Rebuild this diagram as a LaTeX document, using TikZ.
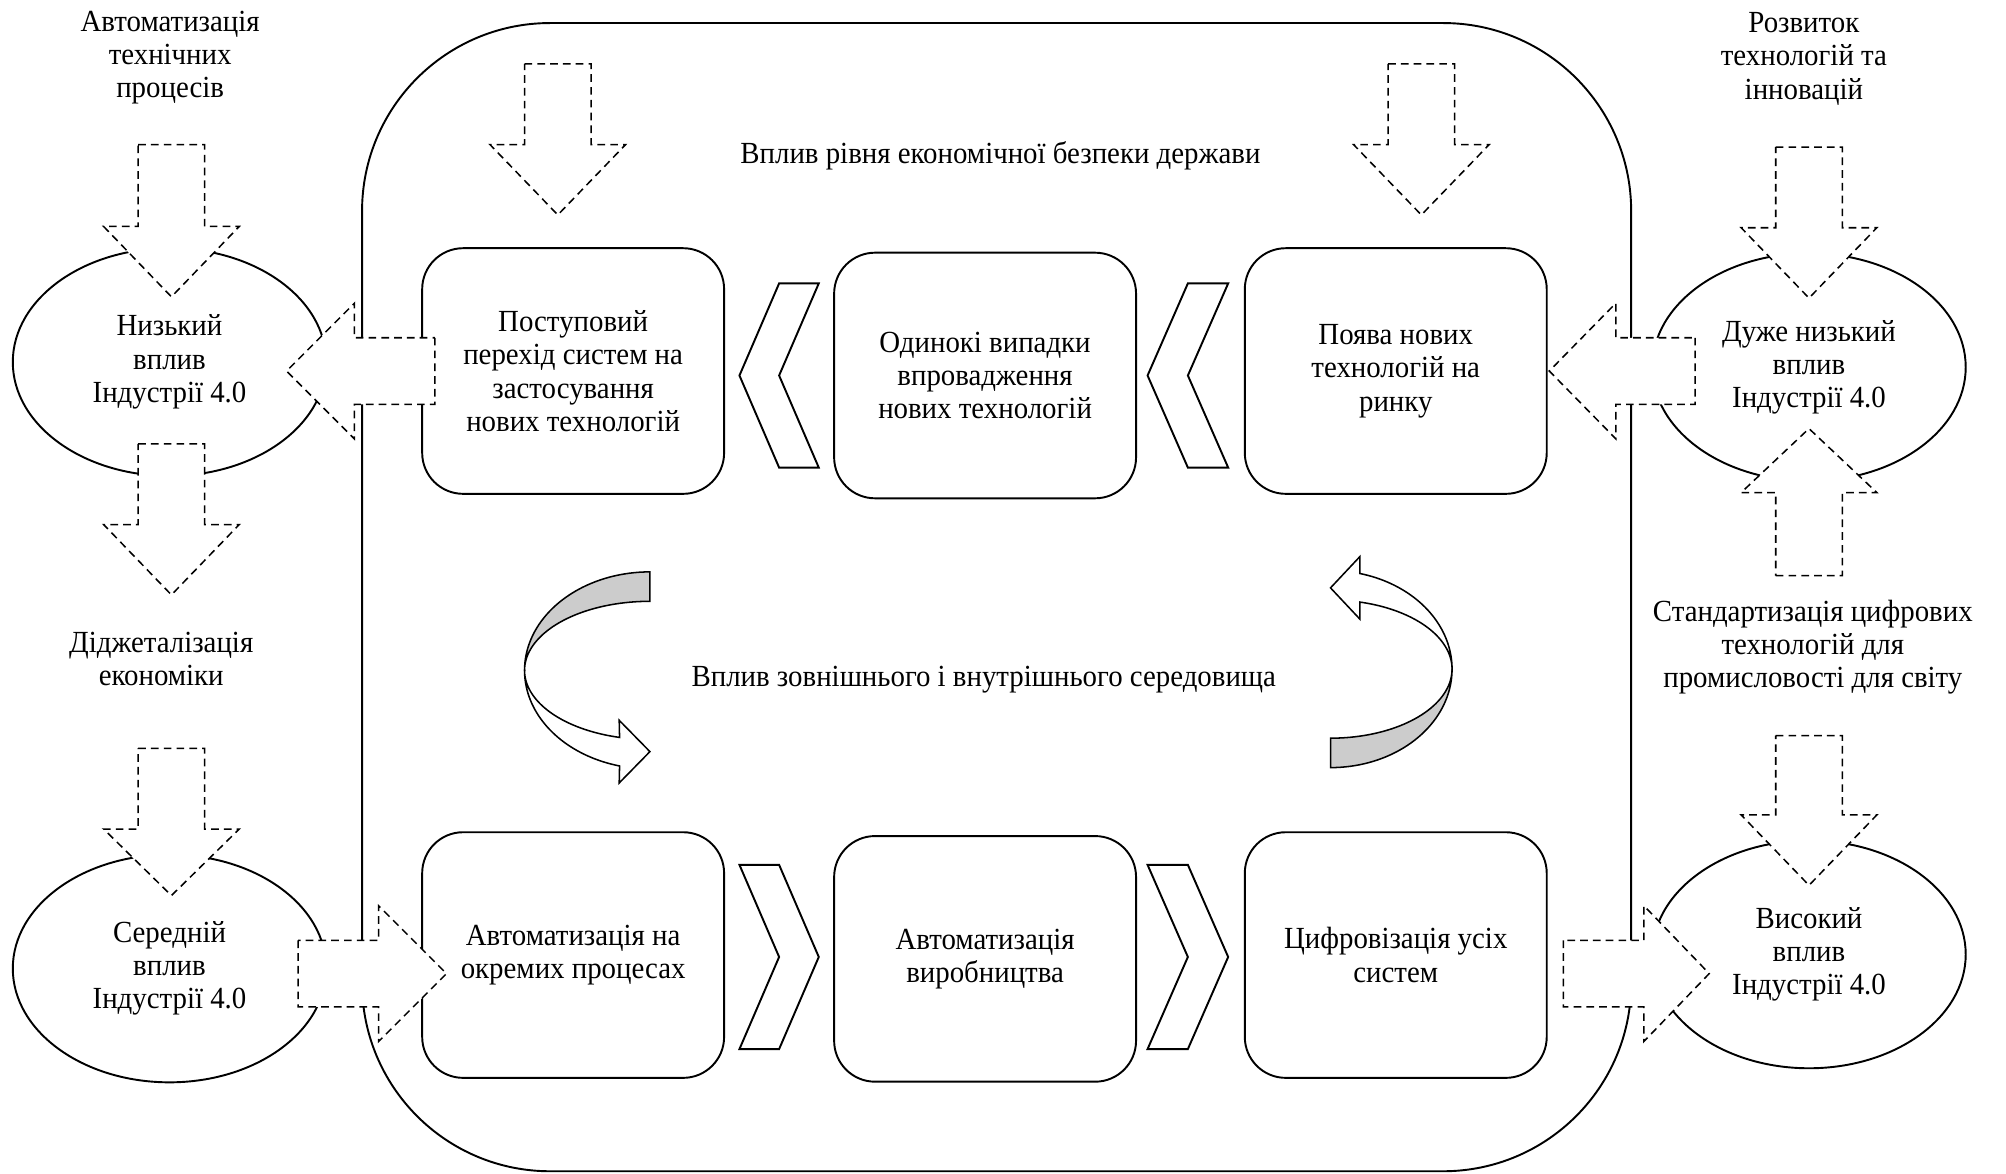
\documentclass[tikz,border=0pt]{standalone}
\usepackage{fontspec}
\setmainfont[FakeStretch=0.94]{Liberation Serif}
\usetikzlibrary{shapes.geometric}
\newcommand{\VArr}[4]{\path[dasharr] ({#1-26},{#2}) -- ({#1+26},{#2}) -- ({#1+26},{#3}) -- ({#1+53},{#3}) -- ({#1},{#4}) -- ({#1-53},{#3}) -- ({#1-26},{#3}) -- cycle;}
\newcommand{\HArr}[4]{\path[dasharr] ({#2},{#1-26}) -- ({#2},{#1+26}) -- ({#3},{#1+26}) -- ({#3},{#1+53}) -- ({#4},{#1}) -- ({#3},{#1-53}) -- ({#3},{#1-26}) -- cycle;}
\newcommand{\LChev}[3]{\path[chev] ({(#1+#2)/2},{#3-72}) -- ({#2},{#3-72}) -- ({(#1+#2)/2},{#3}) -- ({#2},{#3+72}) -- ({(#1+#2)/2},{#3+72}) -- ({#1},{#3}) -- cycle;}
\newcommand{\RChev}[3]{\path[chev] ({#1},{#3-72}) -- ({(#1+#2)/2},{#3-72}) -- ({#2},{#3}) -- ({(#1+#2)/2},{#3+72}) -- ({#1},{#3+72}) -- ({(#1+#2)/2},{#3}) -- cycle;}
\begin{document}
\begin{tikzpicture}[x=0.5pt,y=-0.5pt,
  every node/.style={font=\fontsize{12}{13}\selectfont, align=center, inner sep=0pt},
  stagebox/.style={draw, line width=0.75pt, rounded corners=16pt, minimum width=118pt, minimum height=96pt},
  ovalnode/.style={draw, ellipse, line width=0.75pt, minimum width=122.5pt, minimum height=89pt},
  dasharr/.style={draw, fill=white, line width=0.6pt, dash pattern=on 3pt off 2pt},
  chev/.style={draw, fill=white, line width=0.75pt, line join=miter},
  ribback/.style={draw, fill=black!20, line width=0.6pt},
  ribfront/.style={draw, fill=white, line width=0.6pt},
  frameline/.style={draw, line width=0.75pt, rounded corners=73.5pt}
]
\useasboundingbox (0,0) rectangle (1568,917);
\fill[white] (0,0) rectangle (1568,917);

% outer container
\path[frameline] (283,18) rectangle (1275,915.5);

% texts
\node (tAut) at (133,45) {Автоматизація\\технічних\\процесів};
\node (tRoz) at (1410,46) {Розвиток\\технологій та\\інновацій};
\node (tDig) at (126,515) {Діджеталізація\\економіки};
\node (tSta) at (1417,506) {Стандартизація цифрових\\технологій для\\промисловості для світу};
\node (tEco) at (782,122) {Вплив рівня економічної безпеки держави};
\node (tEnv) at (769,531) {Вплив зовнішнього і внутрішнього середовища};

% ellipses
\node[ovalnode] (e1) at (132.5,283) {Низький\\вплив\\Індустрії 4.0};
\node[ovalnode] (e2) at (132.5,757) {Середній\\вплив\\Індустрії 4.0};
\node[ovalnode] (e3) at (1414,287) {Дуже низький\\вплив\\Індустрії 4.0};
\node[ovalnode] (e4) at (1414,746) {Високий\\вплив\\Індустрії 4.0};

% stage boxes
\node[stagebox] (b1) at (448,290) {Поступовий\\перехід систем на\\застосування\\нових технологій};
\node[stagebox] (b2) at (770,293.5) {Одинокі випадки\\впровадження\\нових технологій};
\node[stagebox] (b3) at (1091,290) {Поява нових\\технологій на\\ринку};
\node[stagebox] (b4) at (448,746.5) {Автоматизація на\\окремих процесах};
\node[stagebox] (b5) at (770,749.5) {Автоматизація\\виробництва};
\node[stagebox] (b6) at (1091,746.5) {Цифровізація усіх\\систем};

% chevrons
\LChev{578}{640}{293.5}
\LChev{897}{960}{293.5}
\RChev{578}{640}{748}
\RChev{897}{960}{748}

% curved ribbon arrows
\path[ribback] plot[domain=90:180, samples=40, variable=\t] ({508+98*cos(\t)},{524-77*sin(\t)})
  -- plot[domain=180:90, samples=40, variable=\t] ({508+98*cos(\t)},{524-54*sin(\t)}) -- cycle;
\path[ribfront] plot[domain=180:256, samples=40, variable=\t] ({508+98*cos(\t)},{524-54*sin(\t)})
  -- (484,563) -- (508,587.5) -- (484,612)
  -- plot[domain=256:180, samples=40, variable=\t] ({508+98*cos(\t)},{524-77*sin(\t)}) -- cycle;
\path[ribback] plot[domain=270:360, samples=40, variable=\t] ({1040+95*cos(\t)},{523-77*sin(\t)})
  -- plot[domain=360:270, samples=40, variable=\t] ({1040+95*cos(\t)},{523-54*sin(\t)}) -- cycle;
\path[ribfront] plot[domain=0:76, samples=40, variable=\t] ({1040+95*cos(\t)},{523-54*sin(\t)})
  -- (1063,484) -- (1040,459.5) -- (1063,435)
  -- plot[domain=76:0, samples=40, variable=\t] ({1040+95*cos(\t)},{523-77*sin(\t)}) -- cycle;

% dashed block arrows (vertical)
\VArr{134}{113}{177}{232}
\VArr{134}{347}{410}{465}
\VArr{134}{585}{648}{700}
\VArr{436}{50}{113}{168}
\VArr{1111}{50}{113}{168}
\VArr{1414}{115}{178}{233}
\VArr{1414}{450}{385}{335}
\VArr{1414}{575}{637}{692}
% dashed block arrows (horizontal)
\HArr{290}{340}{277}{224}
\HArr{290}{1325}{1263}{1211}
\HArr{761}{233}{296}{349}
\HArr{761}{1222}{1285}{1336}
\end{tikzpicture}
\end{document}
